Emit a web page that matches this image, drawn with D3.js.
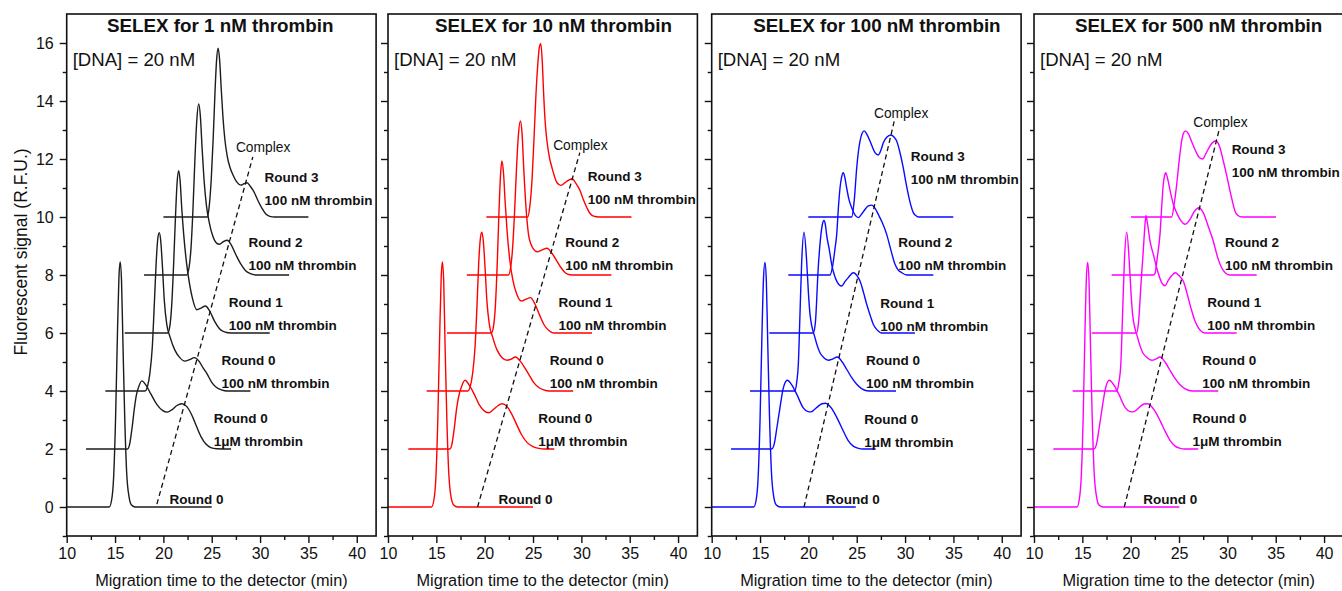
<!DOCTYPE html>
<html><head><meta charset="utf-8">
<script src="https://cdn.jsdelivr.net/npm/d3@7"></script>
<style>
html,body{margin:0;padding:0;background:#fff;}
svg{display:block;}
text{font-family:"Liberation Sans",Arial,Helvetica,sans-serif;fill:#111;}
</style>
</head><body>
<svg id="chart" width="1342" height="591"></svg>
<script>
// ---------------- data ----------------
const xTickValues = [10, 15, 20, 25, 30, 35, 40];
const xMinorTicks = [12.5, 17.5, 22.5, 27.5, 32.5, 37.5];
const yTickValues = [0, 2, 4, 6, 8, 10, 12, 14, 16];
const yMinorTicks = [-1, 1, 3, 5, 7, 9, 11, 13, 15];
const panelTitles = ["SELEX for 1 nM thrombin", "SELEX for 10 nM thrombin", "SELEX for 100 nM thrombin", "SELEX for 500 nM thrombin"];
const dnaLabel = "[DNA] = 20 nM";
const xAxisTitle = "Migration time to the detector (min)";
const yAxisTitle = "Fluorescent signal (R.F.U.)";
const complexLabel = "Complex";
const roundLabels = [["Round 0"], ["Round 0", "1\u03BCM thrombin"], ["Round 0", "100 nM thrombin"], ["Round 1", "100 nM thrombin"], ["Round 2", "100 nM thrombin"], ["Round 3", "100 nM thrombin"]];

// SELEX for 1 nM thrombin  [time (min), signal (R.F.U.)]
const nM1_r0 = [[10,0],[14.4,0],[14.65,0.25],[14.85,1.0],[15.05,3.0],[15.25,6.0],[15.4,7.9],[15.53,8.45],[15.67,7.8],[15.82,5.6],[16.0,3.1],[16.2,1.2],[16.45,0.35],[16.7,0.07],[17.1,0],[25,0]];
const nM1_r0_1uM = [[12,2],[16.3,2],[16.5,2.15],[16.75,2.7],[17.0,3.4],[17.2,3.85],[17.45,4.15],[17.78,4.35],[18.2,4.2],[18.7,3.9],[19.3,3.55],[19.9,3.33],[20.4,3.27],[20.9,3.36],[21.4,3.5],[21.9,3.56],[22.4,3.47],[22.9,3.2],[23.4,2.8],[23.9,2.42],[24.4,2.17],[24.9,2.05],[25.5,2.01],[27,2]];
const nM1_r0_100 = [[14,4],[18.1,4],[18.35,4.15],[18.6,4.6],[18.85,5.5],[19.05,6.9],[19.25,8.4],[19.42,9.25],[19.57,9.46],[19.72,9.2],[19.9,8.3],[20.1,7.1],[20.35,6.3],[20.7,5.85],[21.2,5.4],[21.7,5.15],[22.2,5.03],[22.7,5.08],[23.2,5.15],[23.7,5.02],[24.1,4.8],[24.5,4.6],[25.0,4.3],[25.5,4.12],[26.0,4.04],[26.6,4.0],[29,4]];
const nM1_r1 = [[16,6],[20.45,6],[20.65,6.2],[20.85,6.9],[21.05,8.3],[21.25,10.0],[21.42,11.2],[21.58,11.6],[21.73,11.25],[21.9,10.3],[22.1,9.4],[22.4,8.4],[22.7,7.7],[23.0,7.2],[23.45,6.8],[23.9,6.86],[24.35,6.93],[24.8,6.75],[25.3,6.4],[25.8,6.15],[26.3,6.04],[27,6.0],[31,6]];
const nM1_r2 = [[18,8],[22.4,8],[22.65,8.25],[22.85,8.9],[23.05,10.2],[23.25,11.9],[23.45,13.3],[23.65,13.9],[23.82,13.5],[24.0,12.4],[24.2,11.3],[24.45,10.4],[24.75,9.8],[25.1,9.35],[25.5,9.1],[25.8,9.06],[26.2,9.15],[26.6,9.2],[27.0,9.05],[27.5,8.7],[28.0,8.38],[28.5,8.15],[29.0,8.05],[29.6,8.0],[33,8]];
const nM1_r3 = [[20,10],[24.55,10],[24.75,10.4],[24.95,11.3],[25.15,12.7],[25.35,14.4],[25.5,15.4],[25.66,15.82],[25.82,15.4],[25.97,14.5],[26.15,13.5],[26.35,12.7],[26.6,12.1],[26.9,11.7],[27.2,11.45],[27.6,11.2],[28.0,11.1],[28.35,11.15],[28.65,11.18],[29.0,11.05],[29.35,10.88],[29.8,10.55],[30.2,10.3],[30.6,10.1],[31.0,10.02],[31.5,10],[35,10]];

// SELEX for 10 nM thrombin
const nM10_r0 = [[10,0],[14.5,0],[14.75,0.25],[14.95,1.0],[15.15,3.0],[15.35,6.0],[15.5,7.9],[15.62,8.45],[15.76,7.8],[15.9,5.6],[16.08,3.1],[16.28,1.2],[16.52,0.35],[16.8,0.07],[17.2,0],[25,0]];
const nM10_r0_1uM = [[12.1,2],[16.4,2],[16.6,2.15],[16.85,2.7],[17.1,3.4],[17.3,3.8],[17.6,4.15],[17.97,4.37],[18.4,4.2],[18.9,3.9],[19.4,3.55],[19.9,3.33],[20.4,3.25],[20.9,3.36],[21.4,3.5],[21.8,3.56],[22.3,3.47],[22.8,3.2],[23.3,2.85],[23.8,2.5],[24.4,2.22],[25.0,2.08],[25.6,2.02],[26.2,2.0],[27.2,2]];
const nM10_r0_100 = [[14,4],[18.25,4],[18.5,4.15],[18.75,4.6],[19.0,5.5],[19.2,6.9],[19.38,8.4],[19.55,9.25],[19.7,9.48],[19.85,9.2],[20.03,8.3],[20.23,7.1],[20.48,6.3],[20.83,5.85],[21.3,5.4],[21.8,5.15],[22.31,5.06],[22.75,5.1],[23.17,5.17],[23.7,5.02],[24.15,4.8],[24.6,4.55],[25.1,4.28],[25.6,4.12],[26.1,4.04],[26.7,4.0],[29.15,4]];
const nM10_r1 = [[16.1,6],[20.7,6],[20.9,6.2],[21.1,6.9],[21.3,8.4],[21.48,10.2],[21.63,11.4],[21.78,11.93],[21.95,11.5],[22.12,10.5],[22.32,9.5],[22.6,8.5],[22.9,7.85],[23.3,7.35],[23.8,7.1],[24.3,7.17],[24.73,7.22],[25.2,7.0],[25.7,6.6],[26.2,6.25],[26.7,6.07],[27.2,6.0],[31.1,6]];
const nM10_r2 = [[18.15,8],[22.45,8],[22.68,8.25],[22.88,8.9],[23.08,10.1],[23.28,11.6],[23.48,12.8],[23.69,13.31],[23.86,12.9],[24.05,11.6],[24.28,10.3],[24.53,9.4],[24.8,9.05],[25.05,8.89],[25.43,8.8],[25.9,8.86],[26.45,8.92],[26.95,8.75],[27.47,8.48],[27.9,8.25],[28.33,8.08],[28.8,8.01],[29.4,8.0],[33.1,8]];
const nM10_r3 = [[20.17,10],[24.45,10],[24.68,10.4],[24.9,11.3],[25.1,12.7],[25.3,14.2],[25.5,15.3],[25.65,15.85],[25.8,15.98],[25.95,15.4],[26.09,14.3],[26.25,13.3],[26.44,12.62],[26.7,12.05],[26.96,11.7],[27.48,11.18],[27.88,11.09],[28.45,11.22],[29.05,11.32],[29.45,11.15],[29.88,10.9],[30.2,10.6],[30.57,10.32],[30.9,10.12],[31.26,10.03],[31.8,10],[35.18,10]];

// SELEX for 100 nM thrombin
const nM100_r0 = [[10,0],[14.35,0],[14.6,0.25],[14.8,1.0],[15.0,3.0],[15.2,6.0],[15.36,7.9],[15.51,8.43],[15.65,7.8],[15.8,5.6],[15.98,3.1],[16.18,1.2],[16.42,0.35],[16.68,0.07],[17.1,0],[24.9,0]];
const nM100_r0_1uM = [[12,2],[16.2,2],[16.45,2.15],[16.75,2.75],[17.06,3.42],[17.41,4.11],[17.82,4.37],[18.3,4.2],[18.79,3.89],[19.47,3.42],[19.9,3.3],[20.27,3.28],[20.65,3.37],[21.03,3.48],[21.4,3.56],[21.79,3.58],[22.2,3.48],[22.58,3.31],[23.1,2.98],[23.61,2.62],[24.1,2.3],[24.64,2.1],[25.1,2.03],[25.68,2.0],[26.96,2]];
const nM100_r0_100 = [[13.96,4],[18.6,4],[18.79,4.3],[18.96,4.92],[19.13,6.64],[19.31,8.48],[19.55,9.48],[19.82,8.48],[20.0,7.4],[20.17,6.64],[20.68,5.84],[21.2,5.32],[21.6,5.15],[22.06,5.06],[22.5,5.1],[22.99,5.17],[23.5,5.0],[23.96,4.75],[24.5,4.45],[25.0,4.23],[25.5,4.08],[26.03,4.01],[26.6,4.0],[29.06,4]];
const nM100_r1 = [[15.96,6],[20.5,6],[20.72,6.35],[21.02,8.25],[21.3,9.4],[21.45,9.75],[21.61,9.88],[21.75,9.75],[21.9,9.35],[22.15,8.9],[22.41,8.37],[22.7,7.98],[22.93,7.79],[23.44,7.62],[23.8,7.78],[24.13,7.91],[24.64,8.08],[25.16,7.91],[25.34,7.79],[25.7,7.4],[26.03,6.99],[26.4,6.6],[26.71,6.3],[27.0,6.15],[27.23,6.07],[27.58,6.0],[31.02,6]];
const nM100_r2 = [[17.92,8],[22.23,8],[22.5,8.3],[22.75,8.9],[22.93,9.4],[23.1,10.3],[23.27,11.0],[23.45,11.4],[23.61,11.53],[23.78,11.35],[23.96,11.0],[24.2,10.6],[24.48,10.32],[24.8,10.08],[25.16,9.98],[25.5,10.1],[25.85,10.26],[26.2,10.38],[26.55,10.41],[26.9,10.3],[27.23,10.09],[27.65,9.8],[28.1,9.4],[28.5,8.9],[28.96,8.37],[29.3,8.17],[29.65,8.08],[30.17,8.0],[32.92,8]];
const nM100_r3 = [[19.99,10],[24.48,10],[24.75,10.6],[25.0,11.7],[25.17,12.25],[25.34,12.62],[25.55,12.88],[25.78,12.97],[26.05,12.85],[26.37,12.62],[26.89,12.22],[27.23,12.14],[27.5,12.3],[27.75,12.56],[28.1,12.75],[28.54,12.83],[28.85,12.76],[29.13,12.62],[29.45,12.25],[29.81,11.7],[30.08,11.2],[30.33,10.78],[30.6,10.4],[30.85,10.15],[31.1,10.05],[31.37,10.0],[34.99,10]];

// SELEX for 500 nM thrombin
const nM500_r0 = [[10,0],[14.45,0],[14.68,0.25],[14.88,1.0],[15.08,3.0],[15.27,6.0],[15.42,7.9],[15.55,8.43],[15.69,7.8],[15.84,5.6],[16.02,3.1],[16.22,1.2],[16.47,0.35],[16.72,0.07],[17.15,0],[25.03,0]];
const nM500_r0_1uM = [[12,2],[16.2,2],[16.45,2.15],[16.75,2.75],[17.05,3.42],[17.4,4.1],[17.79,4.37],[18.27,4.2],[18.77,3.89],[19.45,3.42],[19.9,3.3],[20.27,3.28],[20.65,3.36],[21.0,3.47],[21.38,3.55],[21.76,3.56],[22.17,3.46],[22.55,3.29],[23.05,2.97],[23.58,2.6],[24.1,2.28],[24.6,2.1],[25.05,2.03],[25.62,2.0],[26.99,2]];
const nM500_r0_100 = [[14,4],[18.55,4],[18.78,4.3],[18.98,4.92],[19.16,6.64],[19.35,8.48],[19.59,9.48],[19.85,8.48],[20.03,7.4],[20.2,6.64],[20.72,5.84],[21.25,5.32],[21.7,5.15],[22.17,5.06],[22.6,5.1],[23.03,5.17],[23.55,5.0],[24.0,4.75],[24.55,4.45],[25.05,4.23],[25.6,4.08],[26.13,4.01],[26.7,4.0],[29.06,4]];
const nM500_r1 = [[15.97,6],[20.62,6],[20.82,6.4],[21.05,7.6],[21.3,8.83],[21.45,9.6],[21.58,10.05],[21.75,9.75],[22.0,9.17],[22.35,8.7],[22.69,8.25],[23.2,7.74],[23.55,7.63],[23.9,7.82],[24.25,7.98],[24.6,8.08],[25.0,7.98],[25.44,7.79],[25.8,7.4],[26.2,6.9],[26.65,6.41],[27.0,6.18],[27.3,6.06],[27.68,6.0],[30.96,6]];
const nM500_r2 = [[18.03,8],[22.34,8],[22.51,8.05],[22.75,8.6],[23.03,9.4],[23.2,10.3],[23.37,11.13],[23.5,11.42],[23.62,11.53],[23.8,11.35],[24.05,10.95],[24.41,10.44],[24.75,10.15],[25.1,9.92],[25.65,9.75],[26.1,9.9],[26.6,10.2],[27.06,10.32],[27.5,10.15],[28.0,9.7],[28.54,9.17],[29.0,8.6],[29.41,8.25],[29.8,8.07],[30.27,8.0],[33.03,8]];
const nM500_r3 = [[20.03,10],[24.24,10],[24.5,10.45],[24.76,11.13],[25.0,11.9],[25.27,12.62],[25.45,12.88],[25.67,12.97],[25.95,12.88],[26.3,12.6],[26.8,12.22],[27.1,12.05],[27.44,12.0],[27.8,12.2],[28.3,12.5],[28.82,12.63],[29.2,12.42],[29.58,11.93],[29.95,11.4],[30.27,10.9],[30.55,10.5],[30.79,10.2],[31.1,10.05],[31.5,10.0],[35.03,10]];

// "Complex" guide line end points per panel [time, signal]
const complexLine_1 = [[19.33,0.1],[29.25,12.07]];
const complexLine_10 = [[19.26,0],[29.84,12.22]];
const complexLine_100 = [[19.55,0],[28.88,13.31]];
const complexLine_500 = [[19.34,0],[29.16,13.02]];

// annotation anchors in data units (time of text start, signal of first line centre)
const labelT_1 = [20.64, 25.2, 26.0, 26.76, 28.8, 30.47];
const labelT_10 = [21.44, 25.53, 26.73, 27.64, 28.33, 30.67];
const labelT_100 = [21.79, 25.78, 25.96, 27.43, 29.3, 30.58];
const labelT_500 = [21.3, 26.4, 27.4, 27.93, 29.75, 30.44];
const labelV_1 = [0.28, 3.05, 5.07, 7.05, 9.14, 11.38];
const labelV_10 = [0.28, 3.05, 5.07, 7.05, 9.13, 11.42];
const labelV_100 = [0.27, 3.03, 5.07, 7.04, 9.13, 12.09];
const labelV_500 = [0.28, 3.05, 5.07, 7.05, 9.13, 12.34];
const complexPos = [[27.5,12.41],[27.08,12.49],[26.78,13.59],[26.47,13.29]];
const titleStartT = [14.17, 14.87, 14.3, 14.24];

// ---------------- layout / style ----------------
const panelColors = ["#1c1c1c", "#ff0000", "#0a0aff", "#ff00ff"];
const panelLeft = [66.7, 388, 711.7, 1034];
const panelW = 309.4, plotTop = 14, plotBottom = 536;

const panels = [
  {series:[nM1_r0,nM1_r0_1uM,nM1_r0_100,nM1_r1,nM1_r2,nM1_r3], line:complexLine_1, lt:labelT_1, lv:labelV_1},
  {series:[nM10_r0,nM10_r0_1uM,nM10_r0_100,nM10_r1,nM10_r2,nM10_r3], line:complexLine_10, lt:labelT_10, lv:labelV_10},
  {series:[nM100_r0,nM100_r0_1uM,nM100_r0_100,nM100_r1,nM100_r2,nM100_r3], line:complexLine_100, lt:labelT_100, lv:labelV_100},
  {series:[nM500_r0,nM500_r0_1uM,nM500_r0_100,nM500_r1,nM500_r2,nM500_r3], line:complexLine_500, lt:labelT_500, lv:labelV_500}
];

const svg = d3.select("#chart");
const y = d3.scaleLinear().domain([-1, 17]).range([plotBottom, plotTop]);

panels.forEach((p, i) => {
  const x = d3.scaleLinear().domain([10, 42]).range([panelLeft[i], panelLeft[i] + panelW]);
  const g = svg.append("g");
  const line = d3.line().x(d => x(d[0])).y(d => y(d[1])).curve(d3.curveMonotoneX);

  // traces
  g.selectAll("path.trace").data(p.series).join("path")
    .attr("class", "trace")
    .attr("d", d => line(d))
    .attr("fill", "none")
    .attr("stroke", panelColors[i])
    .attr("stroke-width", 1.4)
    .attr("stroke-linejoin", "round");

  // complex dashed line
  g.append("path")
    .attr("d", d3.line().x(d => x(d[0])).y(d => y(d[1]))(p.line))
    .attr("fill", "none").attr("stroke", "#111").attr("stroke-width", 1.3)
    .attr("stroke-dasharray", "5,3.5");

  // frame
  g.append("rect")
    .attr("x", x(10)).attr("y", plotTop)
    .attr("width", panelW).attr("height", plotBottom - plotTop)
    .attr("fill", "none").attr("stroke", "#111").attr("stroke-width", 1.6);

  // x axis
  const xa = g.append("g").attr("transform", `translate(0,${plotBottom})`)
    .call(d3.axisBottom(x).tickValues(xTickValues).tickSize(7).tickPadding(5).tickFormat(d3.format("d")));
  xa.select(".domain").remove();
  xa.selectAll("line").attr("stroke", "#111").attr("stroke-width", 1.4);
  xa.selectAll("text").attr("font-size", 16).attr("font-family", "Liberation Sans, Arial, sans-serif").attr("fill", "#111");
  const xm = g.append("g").attr("transform", `translate(0,${plotBottom})`)
    .call(d3.axisBottom(x).tickValues(xMinorTicks).tickSize(4).tickFormat(""));
  xm.select(".domain").remove();
  xm.selectAll("line").attr("stroke", "#111").attr("stroke-width", 1.4);

  // y axis
  const ya = g.append("g").attr("transform", `translate(${x(10)},0)`)
    .call(d3.axisLeft(y).tickValues(yTickValues).tickSize(7).tickPadding(6).tickFormat(i === 0 ? d3.format("d") : ""));
  ya.select(".domain").remove();
  ya.selectAll("line").attr("stroke", "#111").attr("stroke-width", 1.4);
  ya.selectAll("text").attr("font-size", 16).attr("font-family", "Liberation Sans, Arial, sans-serif").attr("fill", "#111");
  const ym = g.append("g").attr("transform", `translate(${x(10)},0)`)
    .call(d3.axisLeft(y).tickValues(yMinorTicks).tickSize(4).tickFormat(""));
  ym.select(".domain").remove();
  ym.selectAll("line").attr("stroke", "#111").attr("stroke-width", 1.4);

  // title
  g.append("text").attr("x", x(titleStartT[i])).attr("y", 31.5)
    .attr("font-size", 18.8).attr("font-weight", "bold").text(panelTitles[i]);
  // DNA label
  g.append("text").attr("x", x(10) + 6).attr("y", 65.5)
    .attr("font-size", 18.6).text(dnaLabel);
  // x axis title
  g.append("text").attr("x", (x(10) + x(42)) / 2).attr("y", 586)
    .attr("text-anchor", "middle").attr("font-size", 16.3).text(xAxisTitle);

  // round labels
  roundLabels.forEach((lines, k) => {
    const t = g.append("text").attr("x", x(p.lt[k])).attr("y", y(p.lv[k]))
      .attr("font-size", 13.5).attr("font-weight", "bold");
    lines.forEach((s, j) => {
      t.append("tspan").attr("x", x(p.lt[k])).attr("dy", j === 0 ? "0.36em" : 23).text(s);
    });
  });

  // complex label
  g.append("text").attr("x", x(complexPos[i][0])).attr("y", y(complexPos[i][1]))
    .attr("dy", "0.36em").attr("font-size", 13.8).text(complexLabel);
});

// y axis title
svg.append("text")
  .attr("transform", "translate(26.5,252) rotate(-90)")
  .attr("text-anchor", "middle").attr("font-size", 17.5).text(yAxisTitle);
</script>
</body></html>
